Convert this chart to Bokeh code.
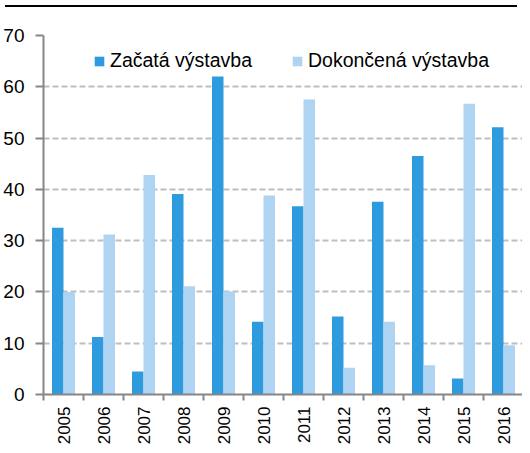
from bokeh.plotting import figure
from bokeh.models import ColumnDataSource, FixedTicker, Legend, LegendItem, Div, Range1d
from bokeh.layouts import column
from bokeh.transform import dodge
from bokeh.embed import file_html
from bokeh.resources import INLINE
from math import pi

years = ["2005", "2006", "2007", "2008", "2009", "2010",
         "2011", "2012", "2013", "2014", "2015", "2016"]
zacata = [32.5, 11.2, 4.5, 39.1, 62.0, 14.2, 36.7, 15.2, 37.6, 46.5, 3.1, 52.1]
dokoncena = [20.0, 31.2, 42.8, 21.1, 20.1, 38.8, 57.5, 5.2, 14.2, 5.7, 56.7, 9.6]
y_ticks = [0, 10, 20, 30, 40, 50, 60, 70]
series_labels = ["Začatá výstavba", "Dokončená výstavba"]
series_colors = ["#2E9BDE", "#AED4F2"]

FONT = "Liberation Sans"
AXIS_COLOR = "#868686"

centers = [i + 0.5 for i in range(len(years))]
src = ColumnDataSource(dict(x=centers, zacata=zacata, dokoncena=dokoncena))

p = figure(width=522, height=435, output_backend="svg", toolbar_location=None,
           x_range=Range1d(0, 11.975), y_range=Range1d(0, 70),
           min_border_left=43, min_border_right=0, min_border_top=23,
           min_border_bottom=39)
p.outline_line_color = None
p.background_fill_color = "white"

bw = 0.2875
r1 = p.vbar(x=dodge("x", -bw / 2, range=p.x_range), top="zacata", width=bw,
            source=src, fill_color=series_colors[0], line_color=None)
r2 = p.vbar(x=dodge("x", bw / 2, range=p.x_range), top="dokoncena", width=bw,
            source=src, fill_color=series_colors[1], line_color=None)

# grid
p.xgrid.grid_line_color = None
p.ygrid.ticker = FixedTicker(ticks=y_ticks)
p.ygrid.grid_line_color = "#BEBEBE"
p.ygrid.grid_line_width = 2
p.ygrid.grid_line_dash = "6 3"

# y axis
ya = p.yaxis[0]
ya.ticker = FixedTicker(ticks=y_ticks)
ya.axis_line_color = AXIS_COLOR
ya.axis_line_width = 2
ya.major_tick_line_color = AXIS_COLOR
ya.major_tick_line_width = 2
ya.major_tick_out = 8
ya.major_tick_in = 0
ya.minor_tick_line_color = None
ya.major_label_standoff = 11
ya.major_label_text_font = FONT
ya.major_label_text_font_size = "19px"
ya.major_label_text_color = "#000000"

# x axis
xa = p.xaxis[0]
xa.ticker = FixedTicker(ticks=centers, minor_ticks=list(range(len(years) + 1)))
xa.major_label_overrides = {c: y for c, y in zip(centers, years)}
xa.axis_line_color = AXIS_COLOR
xa.axis_line_width = 2
xa.major_tick_line_color = None
xa.minor_tick_line_color = AXIS_COLOR
xa.minor_tick_line_width = 2
xa.minor_tick_out = 6
xa.minor_tick_in = 0
xa.major_label_orientation = pi / 2
xa.major_label_standoff = 6
xa.major_label_text_font = FONT
xa.major_label_text_font_size = "17px"
xa.major_label_text_color = "#000000"

legend = Legend(items=[LegendItem(label=series_labels[0], renderers=[r1]),
                       LegendItem(label=series_labels[1], renderers=[r2])],
                orientation="horizontal", location=(50, 322),
                glyph_width=12, glyph_height=12, label_standoff=5, spacing=39,
                padding=0, margin=0, background_fill_alpha=0,
                border_line_color=None, label_text_font=FONT,
                label_text_font_size="19.5px", label_text_color="#000000")
p.add_layout(legend, "center")

rule = Div(text="", width=512, height=2, styles={"background-color": "#000000"})
layout = column(rule, p, spacing=0)

open("out.html", "w").write(file_html(layout, INLINE))
